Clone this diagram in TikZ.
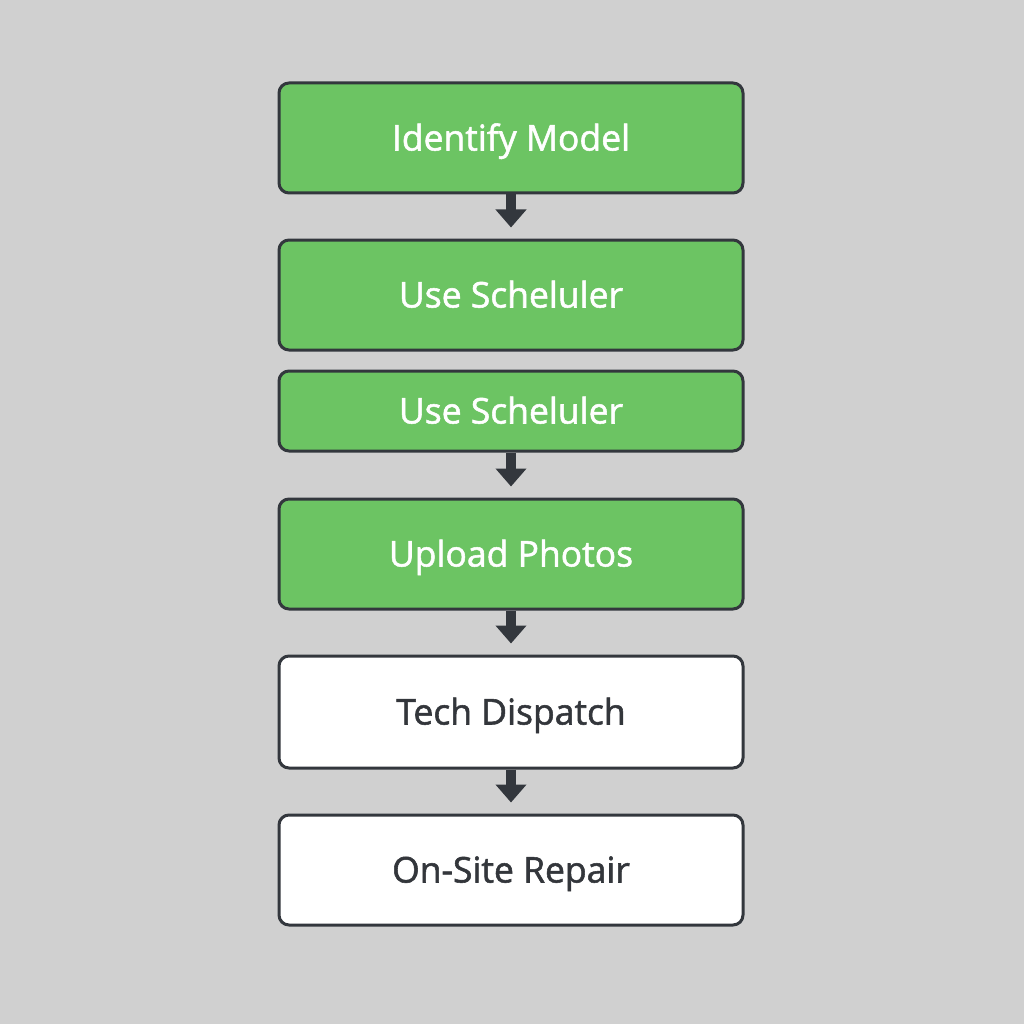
\documentclass[tikz,border=0pt]{standalone}
\usepackage{fontspec}
\setmainfont{Open Sans}[FakeBold=1.5]
\usetikzlibrary{arrows.meta}
\definecolor{bgc}{HTML}{D0D0D0}
\definecolor{grn}{HTML}{6CC463}
\definecolor{edge}{HTML}{33373D}
\definecolor{txtd}{HTML}{33363B}
\begin{document}
\begin{tikzpicture}[x=1pt,y=-1pt,
  box/.style={draw=edge, line width=3pt, rounded corners=10pt, minimum width=464pt, inner sep=0pt,
    text height=25pt, text depth=0pt, font=\fontsize{35.5}{40}\selectfont},
  gbox/.style={box, fill=grn, text=white},
  wbox/.style={box, fill=white, text=txtd},
  conn/.style={draw=edge, line width=10pt, -{Triangle[width=30pt,length=18pt]}, shorten >=11pt}]
\fill[bgc] (0,0) rectangle (1024,1024);
\useasboundingbox (0,0) rectangle (1024,1024);
\node[gbox, minimum height=110pt] (b1) at (511,138) {Identify Model};
\node[gbox, minimum height=110pt] (b2) at (511,295) {Use Scheluler};
\node[gbox, minimum height=80pt] (b3) at (511,411) {Use Scheluler};
\node[gbox, minimum height=110pt] (b4) at (511,554) {Upload Photos};
\node[wbox, minimum height=112pt] (b5) at (511,712) {Tech Dispatch};
\node[wbox, minimum height=110pt] (b6) at (511,870) {On-Site Repair};
\draw[conn] (b1.south) -- (b2.north);
\draw[conn] (b3.south) -- (b4.north);
\draw[conn] (b4.south) -- (b5.north);
\draw[conn] (b5.south) -- (b6.north);
\end{tikzpicture}
\end{document}
